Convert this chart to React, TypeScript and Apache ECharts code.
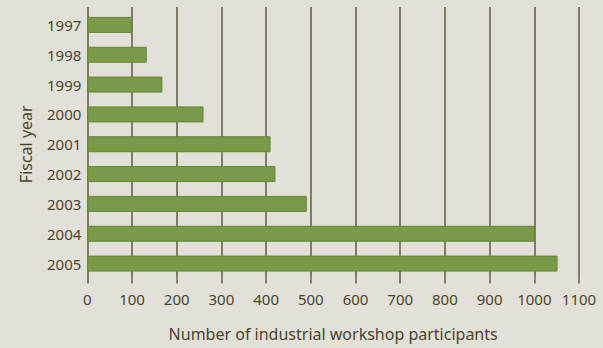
import React, { useEffect, useRef } from "react";
import * as echarts from "echarts";

const years = ["1997", "1998", "1999", "2000", "2001", "2002", "2003", "2004", "2005"];
const participants = [100, 133, 168, 260, 410, 421, 491, 1001, 1052];
const xMin = 0;
const xMax = 1100;
const xStep = 100;

const TEXT = "#48462a";
const GRID = "#5e5c3e";
const FONT = "Noto Sans";

export default function App() {
  const ref = useRef<HTMLDivElement>(null);
  useEffect(() => {
    if (!ref.current) return;
    const chart = echarts.init(ref.current, null, { renderer: "svg" });
    chart.setOption({
      animation: false,
      backgroundColor: "#e3e0da",
      textStyle: { fontFamily: FONT },
      grid: { left: 87.3, right: 24, top: 10, bottom: 69.5 },
      xAxis: [
        {
          type: "value",
          min: xMin,
          max: xMax,
          interval: xStep,
          position: "bottom",
          axisLine: { show: false },
          axisTick: { show: true, length: 5, lineStyle: { color: GRID, width: 1.5 } },
          splitLine: { show: true, lineStyle: { color: GRID, width: 1.5 } },
          axisLabel: {
            color: TEXT,
            fontSize: 15,
            margin: 13,
            fontFamily: FONT,
            formatter: (v: number) => String(v),
          },
          name: "Number of industrial workshop participants",
          nameLocation: "middle",
          nameGap: 47,
          nameTextStyle: { color: TEXT, fontSize: 16, fontFamily: FONT },
        },
        {
          type: "value",
          min: xMin,
          max: xMax,
          interval: xStep,
          position: "top",
          axisLine: { show: false },
          axisTick: { show: true, length: 3, lineStyle: { color: GRID, width: 1.5 } },
          splitLine: { show: false },
          axisLabel: { show: false },
        },
      ],
      yAxis: {
        type: "category",
        data: years,
        inverse: true,
        axisLine: { show: false },
        axisTick: { show: false },
        axisLabel: { color: TEXT, fontSize: 15, margin: 6, fontFamily: FONT },
        name: "Fiscal year",
        nameLocation: "middle",
        nameGap: 53,
        nameTextStyle: { color: TEXT, fontSize: 16, fontFamily: FONT },
      },
      series: [
        {
          type: "bar",
          data: participants,
          barWidth: 16,
          itemStyle: { color: "#7a9a4a", borderColor: "#5f8a2c", borderWidth: 1 },
        },
      ],
    });
    return () => chart.dispose();
  }, []);
  return (
    <div
      ref={ref}
      style={{ position: "absolute", left: 0, top: 0, width: 603, height: 348 }}
    />
  );
}
